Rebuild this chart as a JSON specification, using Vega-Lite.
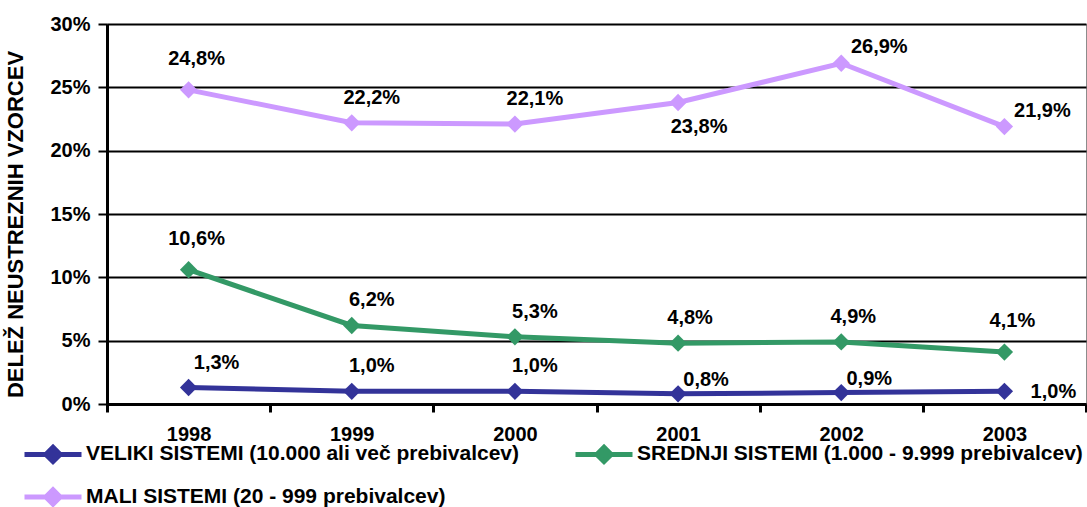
{
  "$schema": "https://vega.github.io/schema/vega-lite/v6.json",
  "width": 979,
  "height": 380,
  "autosize": {"type": "none"},
  "padding": {"left": 107, "top": 24, "right": 1, "bottom": 103},
  "background": "white",
  "config": {
    "locale": {
      "number": {"decimal": ",", "thousands": ".", "grouping": [3], "currency": ["", " €"]}
    },
    "font": "Liberation Sans",
    "view": {"stroke": "#8c8c8c", "strokeWidth": 1},
    "text": {"font": "Liberation Sans", "fontWeight": "bold", "fontSize": 20, "color": "black", "baseline": "middle", "align": "center"}
  },
  "data": {
    "values": [
      {"leto": "1998", "sistem": "VELIKI SISTEMI (10.000 ali več prebivalcev)", "delez": 0.013},
      {"leto": "1999", "sistem": "VELIKI SISTEMI (10.000 ali več prebivalcev)", "delez": 0.010},
      {"leto": "2000", "sistem": "VELIKI SISTEMI (10.000 ali več prebivalcev)", "delez": 0.010},
      {"leto": "2001", "sistem": "VELIKI SISTEMI (10.000 ali več prebivalcev)", "delez": 0.008},
      {"leto": "2002", "sistem": "VELIKI SISTEMI (10.000 ali več prebivalcev)", "delez": 0.009},
      {"leto": "2003", "sistem": "VELIKI SISTEMI (10.000 ali več prebivalcev)", "delez": 0.010},
      {"leto": "1998", "sistem": "SREDNJI SISTEMI (1.000 - 9.999 prebivalcev)", "delez": 0.106},
      {"leto": "1999", "sistem": "SREDNJI SISTEMI (1.000 - 9.999 prebivalcev)", "delez": 0.062},
      {"leto": "2000", "sistem": "SREDNJI SISTEMI (1.000 - 9.999 prebivalcev)", "delez": 0.053},
      {"leto": "2001", "sistem": "SREDNJI SISTEMI (1.000 - 9.999 prebivalcev)", "delez": 0.048},
      {"leto": "2002", "sistem": "SREDNJI SISTEMI (1.000 - 9.999 prebivalcev)", "delez": 0.049},
      {"leto": "2003", "sistem": "SREDNJI SISTEMI (1.000 - 9.999 prebivalcev)", "delez": 0.041},
      {"leto": "1998", "sistem": "MALI SISTEMI (20 - 999 prebivalcev)", "delez": 0.248},
      {"leto": "1999", "sistem": "MALI SISTEMI (20 - 999 prebivalcev)", "delez": 0.222},
      {"leto": "2000", "sistem": "MALI SISTEMI (20 - 999 prebivalcev)", "delez": 0.221},
      {"leto": "2001", "sistem": "MALI SISTEMI (20 - 999 prebivalcev)", "delez": 0.238},
      {"leto": "2002", "sistem": "MALI SISTEMI (20 - 999 prebivalcev)", "delez": 0.269},
      {"leto": "2003", "sistem": "MALI SISTEMI (20 - 999 prebivalcev)", "delez": 0.219}
    ]
  },
  "encoding": {
    "x": {
      "field": "leto",
      "type": "nominal",
      "scale": {"type": "band", "paddingInner": 0, "paddingOuter": 0},
      "axis": {
        "title": null,
        "labelAngle": 0,
        "labelFont": "Liberation Sans",
        "labelFontWeight": "bold",
        "labelFontSize": 20,
        "labelColor": "black",
        "labelPadding": 12,
        "tickBand": "extent",
        "tickColor": "black",
        "tickWidth": 3,
        "tickSize": 8,
        "domainColor": "black",
        "domainWidth": 3,
        "grid": false
      }
    },
    "y": {
      "field": "delez",
      "type": "quantitative",
      "scale": {"domain": [0, 0.3], "nice": false},
      "axis": {
        "title": "DELEŽ NEUSTREZNIH VZORCEV",
        "titleFont": "Liberation Sans",
        "titleFontWeight": "bold",
        "titleFontSize": 22,
        "titleColor": "black",
        "titlePadding": 22,
        "titleY": 200,
        "format": ".0%",
        "values": [0, 0.05, 0.1, 0.15, 0.2, 0.25, 0.3],
        "labelFont": "Liberation Sans",
        "labelFontWeight": "bold",
        "labelFontSize": 20,
        "labelColor": "black",
        "labelPadding": 8,
        "tickColor": "black",
        "tickWidth": 2,
        "tickSize": 9,
        "domainColor": "black",
        "domainWidth": 3,
        "grid": true,
        "gridColor": "black",
        "gridWidth": 2,
        "gridOpacity": 1
      }
    }
  },
  "layer": [
    {
      "mark": {
        "type": "line",
        "strokeWidth": 5,
        "point": {"filled": true, "shape": "diamond", "size": 300, "opacity": 1}
      },
      "encoding": {
        "color": {
          "field": "sistem",
          "type": "nominal",
          "scale": {
            "domain": [
              "VELIKI SISTEMI (10.000 ali več prebivalcev)",
              "SREDNJI SISTEMI (1.000 - 9.999 prebivalcev)",
              "MALI SISTEMI (20 - 999 prebivalcev)"
            ],
            "range": ["#333399", "#339966", "#cc99ff"]
          },
          "legend": {
            "title": null,
            "orient": "none",
            "legendX": -66,
            "legendY": 418,
            "direction": "horizontal",
            "columns": 2,
            "columnPadding": 45,
            "rowPadding": 7,
            "padding": 0,
            "symbolType": "M-3,0L3,0M0,-0.75L0.75,0L0,0.75L-0.75,0Z",
            "symbolSize": 361,
            "symbolStrokeWidth": 5,
            "labelOffset": 21,
            "labelFont": "Liberation Sans",
            "labelFontWeight": "bold",
            "labelFontSize": 21,
            "labelColor": "black",
            "labelLimit": 600,
            "encode": {
              "symbols": {
                "update": {
                  "fill": {"scale": "color", "field": "value"},
                  "stroke": {"scale": "color", "field": "value"},
                  "opacity": {"value": 1}
                }
              }
            }
          }
        }
      }
    },
    {
      "transform": [{"filter": "(test(/^MALI/, datum.sistem) && datum.leto == '1998') || (test(/^SREDNJI/, datum.sistem) && (datum.leto == '1998' || datum.leto == '2003'))"}],
      "mark": {"type": "text", "dx": 8, "dy": -31},
      "encoding": {"text": {"field": "delez", "type": "quantitative", "format": ".1%"}}
    },
    {
      "transform": [{"filter": "(datum.leto == '1999' || datum.leto == '2000')"}],
      "mark": {"type": "text", "dx": 20, "dy": -25},
      "encoding": {"text": {"field": "delez", "type": "quantitative", "format": ".1%"}}
    },
    {
      "transform": [{"filter": "test(/^SREDNJI/, datum.sistem) && (datum.leto == '2001' || datum.leto == '2002')"}],
      "mark": {"type": "text", "dx": 12, "dy": -25},
      "encoding": {"text": {"field": "delez", "type": "quantitative", "format": ".1%"}}
    },
    {
      "transform": [{"filter": "test(/^MALI/, datum.sistem) && (datum.leto == '2002' || datum.leto == '2003')"}],
      "mark": {"type": "text", "dx": 38, "dy": -16},
      "encoding": {"text": {"field": "delez", "type": "quantitative", "format": ".1%"}}
    },
    {
      "transform": [{"filter": "test(/^MALI/, datum.sistem) && datum.leto == '2001'"}],
      "mark": {"type": "text", "dx": 21, "dy": 24},
      "encoding": {"text": {"field": "delez", "type": "quantitative", "format": ".1%"}}
    },
    {
      "transform": [{"filter": "test(/^VELIKI/, datum.sistem) && datum.leto == '1998'"}],
      "mark": {"type": "text", "dx": 28, "dy": -25},
      "encoding": {"text": {"field": "delez", "type": "quantitative", "format": ".1%"}}
    },
    {
      "transform": [{"filter": "test(/^VELIKI/, datum.sistem) && (datum.leto == '2001' || datum.leto == '2002')"}],
      "mark": {"type": "text", "dx": 28, "dy": -14},
      "encoding": {"text": {"field": "delez", "type": "quantitative", "format": ".1%"}}
    },
    {
      "transform": [{"filter": "test(/^VELIKI/, datum.sistem) && datum.leto == '2003'"}],
      "mark": {"type": "text", "dx": 49, "dy": 1},
      "encoding": {"text": {"field": "delez", "type": "quantitative", "format": ".1%"}}
    }
  ]
}
